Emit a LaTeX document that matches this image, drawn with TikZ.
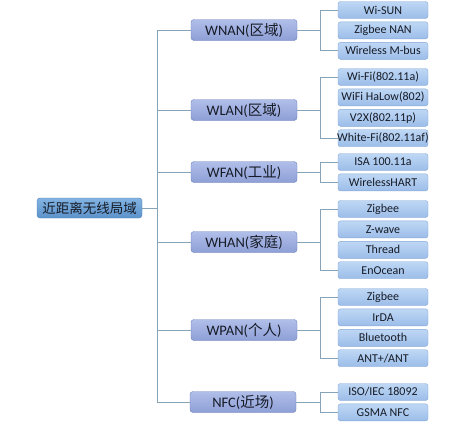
\documentclass[tikz,border=0pt]{standalone}
\usepackage{fontspec}
\setmainfont{Carlito}
\newfontfamily\cjk{Noto Sans CJK SC}
\usetikzlibrary{positioning}
\definecolor{ink}{HTML}{161B26}
\definecolor{wire}{HTML}{86A3B8}
\definecolor{rootline}{HTML}{4D7FB4}
\definecolor{arealine}{HTML}{6E7FB6}
\definecolor{itemline}{HTML}{84A8D6}
\definecolor{rootTop}{HTML}{82B3E2}
\definecolor{rootBot}{HTML}{5C93CC}
\definecolor{areaTop}{HTML}{B0BEE9}
\definecolor{areaBot}{HTML}{8E9FD6}
\definecolor{itemTop}{HTML}{BED7F4}
\definecolor{itemBot}{HTML}{9CBDE9}

\begin{document}
\begin{tikzpicture}[
  x=1pt, y=-1pt,
  rootbox/.style={draw=rootline, top color=rootTop, bottom color=rootBot,
    text=ink, rounded corners=3pt, minimum width=105pt, minimum height=20pt,
    inner sep=1pt, font=\cjk\fontsize{13.5}{15}\selectfont},
  areabox/.style={draw=arealine, top color=areaTop, bottom color=areaBot,
    text=ink, rounded corners=3pt, minimum width=106pt, minimum height=21pt,
    inner sep=1pt, font=\fontsize{14.5}{16}\selectfont},
  itembox/.style={draw=itemline, top color=itemTop, bottom color=itemBot,
    text=ink, rounded corners=2.5pt, minimum width=90pt, minimum height=17pt,
    inner xsep=0.5pt, inner ysep=0pt, font=\fontsize{12}{13}\selectfont},
  link/.style={draw=wire, line width=0.8pt}
]
  \useasboundingbox (0,0) rectangle (471,434);

  \coordinate (trunk) at (157,0);
  \coordinate (fork) at (320,0);

  % root
  \node[rootbox] (root) at (89.5,208) {近距离无线局域};

  % areas
  \node[areabox] (wnan) at (244,30) {WNAN({\cjk 区域})};
  \node[areabox] (wlan) at (244,110) {WLAN({\cjk 区域})};
  \node[areabox] (wfan) at (244,172) {WFAN({\cjk 工业})};
  \node[areabox] (whan) at (244,242) {WHAN({\cjk 家庭})};
  \node[areabox] (wpan) at (244,330) {WPAN({\cjk 个人})};
  \node[areabox] (nfc) at (243,402) {NFC({\cjk 近场})};

  % WNAN
  \node[itembox] (sun) at (383,10) {Wi-SUN};
  \node[itembox, below=3pt of sun] (zbnan) {Zigbee NAN};
  \node[itembox, below=3pt of zbnan] (mbus) {Wireless M-bus};
  % WLAN
  \node[itembox] (wifi) at (383,77) {Wi-Fi(802.11a)};
  \node[itembox, below=3pt of wifi] (halow) {WiFi HaLow(802)};
  \node[itembox, below=3pt of halow] (vtx) {V2X(802.11p)};
  \node[itembox, below=3pt of vtx] (white) {\makebox[89pt]{White-Fi(802.11af)}};
  % WFAN
  \node[itembox] (isa) at (383,162) {ISA 100.11a};
  \node[itembox, below=3pt of isa] (hart) {WirelessHART};
  % WHAN
  \node[itembox] (zbh) at (383,209) {Zigbee};
  \node[itembox, below=3pt of zbh] (zwave) {Z-wave};
  \node[itembox, below=3pt of zwave] (thread) {Thread};
  \node[itembox, below=3pt of thread] (eno) {EnOcean};
  % WPAN
  \node[itembox] (zbp) at (383,297) {Zigbee};
  \node[itembox, below=3pt of zbp] (irda) {IrDA};
  \node[itembox, below=3pt of irda] (bt) {Bluetooth};
  \node[itembox, below=3pt of bt] (ant) {ANT+/ANT};
  % NFC
  \node[itembox] (iso) at (383,392) {ISO/IEC 18092};
  \node[itembox, below=3pt of iso] (gsma) {GSMA NFC};

  % connectors
  \draw[link] (root.east) -- (root.east -| trunk);
  \draw[link] (trunk |- wnan.west) -- (trunk |- nfc.west);
  \foreach \a in {wnan,wlan,wfan,whan,wpan,nfc}
    \draw[link] (trunk |- \a.west) -- (\a.west);
  \foreach \a/\f/\l in {wnan/sun/mbus, wlan/wifi/white, wfan/isa/hart,
                        whan/zbh/eno, wpan/zbp/ant, nfc/iso/gsma}{
    \draw[link] (\a.east) -- (fork |- \a.east);
    \draw[link] (\f.west) -- (fork |- \f.west) -- (fork |- \l.west) -- (\l.west);
  }
\end{tikzpicture}
\end{document}
